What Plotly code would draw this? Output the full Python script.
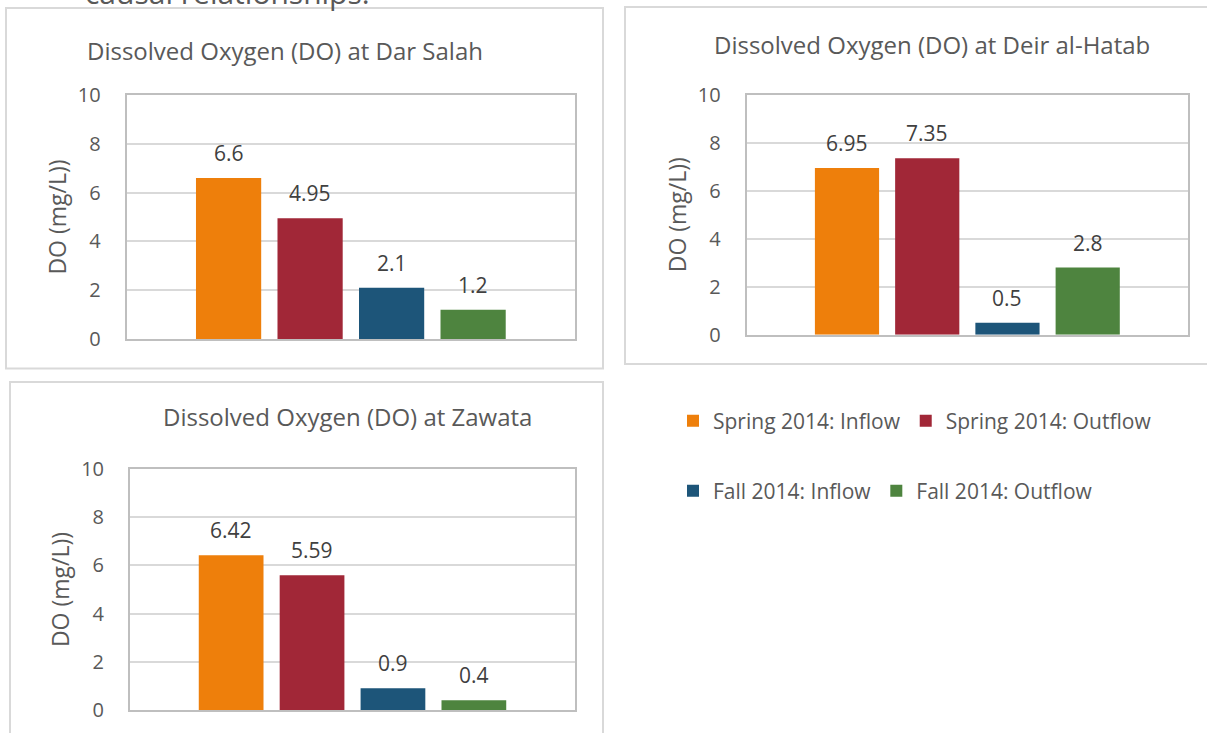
import plotly.graph_objects as go

# ---------------- data ----------------
series = ["Spring 2014: Inflow", "Spring 2014: Outflow", "Fall 2014: Inflow", "Fall 2014: Outflow"]
series_colors = ["#EE7F0B", "#A12737", "#1D5579", "#4E843F"]
sites = ["Dar Salah", "Deir al-Hatab", "Zawata"]
do_dar_salah = [6.6, 4.95, 2.1, 1.2]
do_deir_al_hatab = [6.95, 7.35, 0.5, 2.8]
do_zawata = [6.42, 5.59, 0.9, 0.4]
y_tick_values = [0, 2, 4, 6, 8, 10]
y_axis_title = "DO (mg/L))"
title_prefix = "Dissolved Oxygen (DO) at "
top_text = "causal relationships:"

site_values = [do_dar_salah, do_deir_al_hatab, do_zawata]

# ---------------- layout geometry (pixels) ----------------
W, H = 1207, 733
FONT = "Open Sans"
GREY = "#595959"
DARK = "#404040"

panels = [
    dict(plot=(126.7, 575.0, 95.0, 339.0), box=(6, 603, 8, 368.5), title=(285, 51)),
    dict(plot=(746.7, 1188.0, 94.7, 334.7), box=(625, 1212, 7, 364), title=(932, 44)),
    dict(plot=(130.0, 575.0, 469.0, 710.0), box=(10, 603, 382, 750), title=(347, 416)),
]


def px_x(x):
    return x / W


def px_y(y):
    return 1 - y / H


fig = go.Figure()
shapes = []
annotations = []

for k, (site, vals, p) in enumerate(zip(sites, site_values, panels), start=1):
    sfx = "" if k == 1 else str(k)
    for j, (name, col, v) in enumerate(zip(series, series_colors, vals)):
        fig.add_trace(go.Bar(
            x=[name], y=[v], name=name,
            marker=dict(color=col, line=dict(width=0)),
            xaxis="x" + sfx, yaxis="y" + sfx,
            showlegend=(k == 1),
            legend="legend" if j < 2 else "legend2",
            hoverinfo="skip",
        ))
        annotations.append(dict(
            x=name, y=v, xref="x" + sfx, yref="y" + sfx,
            text=f"{v:g}", showarrow=False, yanchor="middle", yshift=25,
            font=dict(family=FONT, size=21, color=DARK),
        ))
    x0, x1, y0, y1 = p["plot"]
    fig.update_layout(**{
        "xaxis" + sfx: dict(
            domain=[px_x(x0), px_x(x1)], anchor="y" + sfx,
            type="category", categoryorder="array", categoryarray=series,
            range=[-1.25, 4.25], showticklabels=False, ticks="",
            showgrid=False, zeroline=False, automargin=False,
            showline=True, linecolor="#BFBFBF", linewidth=2, mirror=True,
        ),
        "yaxis" + sfx: dict(
            domain=[px_y(y1), px_y(y0)], anchor="x" + sfx,
            range=[0, 10], tickvals=y_tick_values, ticks="",
            showgrid=True, gridcolor="#D9D9D9", gridwidth=1.5, zeroline=False,
            showline=True, linecolor="#BFBFBF", linewidth=2, mirror=True,
            automargin=False,
            tickfont=dict(family=FONT, size=20, color=GREY),
            ticklabelstandoff=20,
            title=dict(text=y_axis_title, standoff=5,
                       font=dict(family=FONT, size=23, color=GREY)),
        ),
    })
    bx0, bx1, by0, by1 = p["box"]
    shapes.append(dict(type="rect", xref="paper", yref="paper",
                       x0=px_x(bx0), x1=px_x(bx1), y0=px_y(by1), y1=px_y(by0),
                       line=dict(color="#D9D9D9", width=2), layer="below"))
    tx, ty = p["title"]
    annotations.append(dict(
        x=px_x(tx), y=px_y(ty), xref="paper", yref="paper",
        text=title_prefix + site, showarrow=False,
        xanchor="center", yanchor="middle",
        font=dict(family=FONT, size=24, color=GREY),
    ))

annotations.append(dict(
    x=px_x(83), y=px_y(-7), xref="paper", yref="paper",
    text=top_text, showarrow=False, xanchor="left", yanchor="middle",
    font=dict(family=FONT, size=30, color=GREY),
))

legend_style = dict(
    orientation="h", xref="paper", yref="paper", xanchor="left", yanchor="middle",
    bgcolor="rgba(0,0,0,0)", borderwidth=0,
    font=dict(family=FONT, size=21, color=GREY),
)

fig.update_layout(
    width=W, height=H,
    margin=dict(l=0, r=0, t=0, b=0, autoexpand=False),
    paper_bgcolor="white", plot_bgcolor="white",
    barmode="overlay", bargap=0.2,
    shapes=shapes, annotations=annotations,
    legend=dict(x=px_x(673), y=px_y(421), **legend_style),
    legend2=dict(x=px_x(673), y=px_y(491), **legend_style),
    font=dict(family=FONT, color=GREY),
)

fig.write_html(
    "out.html",
    config={"displayModeBar": False},
    post_script="document.body.style.margin='0';document.body.style.overflow='hidden';",
)
